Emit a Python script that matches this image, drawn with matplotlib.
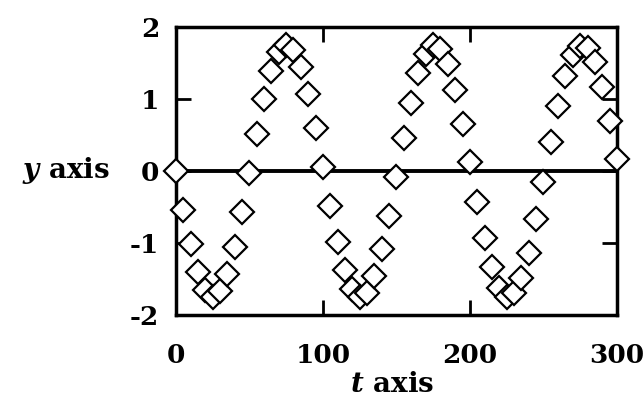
import matplotlib
matplotlib.use("Agg")
import matplotlib.pyplot as plt

# sampled signal, one sample every 5 time units
t = list(range(0, 301, 5))
y = [0.00, -0.54, -1.02, -1.41, -1.66, -1.75, -1.67, -1.43, -1.05, -0.57,
     -0.03, 0.51, 1.00, 1.39, 1.65, 1.75, 1.68, 1.44, 1.07, 0.59,
     0.06, -0.48, -0.98, -1.38, -1.64, -1.75, -1.69, -1.46, -1.09, -0.62,
     -0.09, 0.46, 0.95, 1.36, 1.63, 1.75, 1.69, 1.48, 1.12, 0.65,
     0.12, -0.43, -0.93, -1.34, -1.62, -1.75, -1.70, -1.49, -1.14, -0.67,
     -0.15, 0.40, 0.90, 1.32, 1.61, 1.74, 1.71, 1.51, 1.16, 0.70,
     0.17]

xticks = [0, 100, 200, 300]
yticks = [-2, -1, 0, 1, 2]

plt.rcParams['font.family'] = 'DejaVu Serif'
plt.rcParams['font.weight'] = 'bold'
plt.rcParams['axes.unicode_minus'] = False
plt.rcParams['mathtext.fontset'] = 'custom'
plt.rcParams['mathtext.it'] = 'DejaVu Serif:italic:bold'
plt.rcParams['mathtext.rm'] = 'DejaVu Serif:bold'

fig = plt.figure(figsize=(6.44, 4.08), dpi=100)
ax = fig.add_axes([0.273, 0.228, 0.685, 0.706])

ax.axhline(0, color='k', lw=2.8, zorder=1)
ax.plot(t, y, 'D', ms=12.5, mfc='white', mec='k', mew=1.6, clip_on=False, zorder=3)

ax.set_xlim(0, 300)
ax.set_ylim(-2, 2)
ax.set_xticks(xticks)
ax.set_yticks(yticks)
ax.tick_params(direction='in', length=11, width=2, top=True, right=True, labelsize=19)
ax.tick_params(axis='x', pad=20)
ax.tick_params(axis='y', pad=12)
for s in ax.spines.values():
    s.set_linewidth(2.5)

ax.set_xlabel('$t$ axis', fontsize=20, fontweight='bold', va='center')
ax.xaxis.set_label_coords(0.49, -0.243)
ax.set_ylabel('$y$ axis', fontsize=20, fontweight='bold', rotation=0, ha='right', va='center')
ax.yaxis.set_label_coords(-0.15, 0.5)

fig.savefig('out.png', dpi=100)
